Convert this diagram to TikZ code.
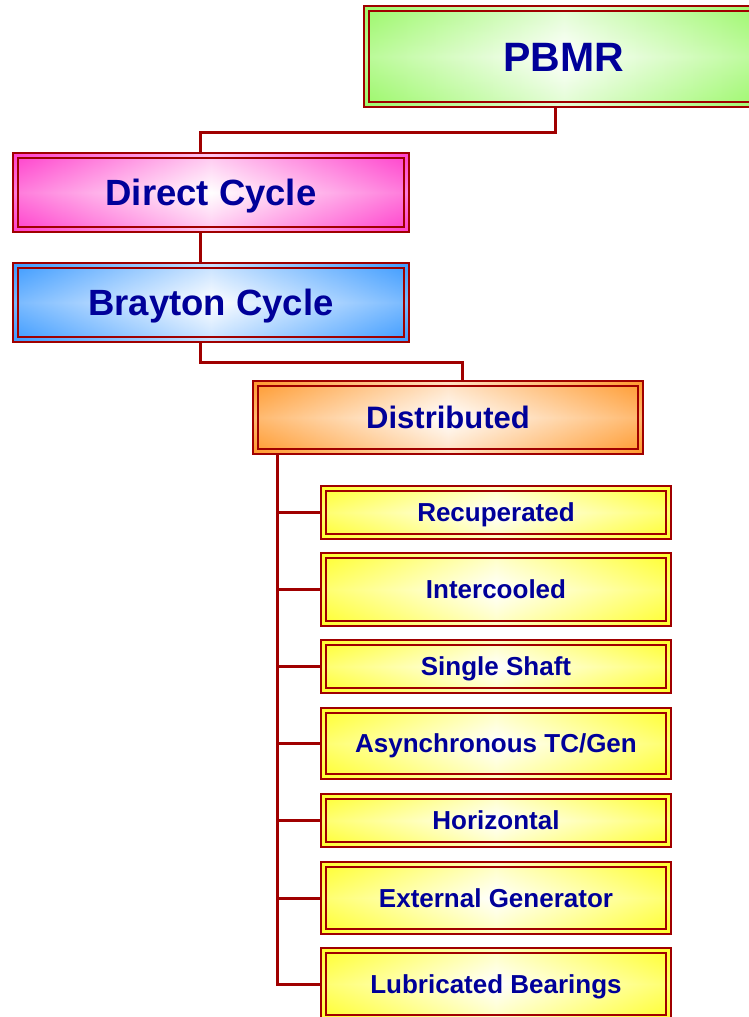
\documentclass[tikz,border=0pt]{standalone}
\usepackage{fontspec}
\setmainfont{Liberation Sans}
\usetikzlibrary{calc}
\definecolor{dred}{HTML}{A00000}
\definecolor{tblue}{HTML}{000099}
\definecolor{cgreen}{HTML}{9CF86A}
\definecolor{cpink}{HTML}{FF3FCC}
\definecolor{cblue}{HTML}{3D9BFF}
\definecolor{corange}{HTML}{FF9A2E}
\definecolor{cyellow}{HTML}{FFFF2E}
\tikzset{
  box/.style={draw=dred, line width=2pt, text=tblue, inner sep=0pt,
    text depth=0pt, left color=#1, right color=#1, middle color=white,
    path picture={
      \shade[top color=#1, bottom color=#1, middle color=white, opacity=0.3]
        (path picture bounding box.south west) rectangle (path picture bounding box.north east);
    }},
  innerb/.style={draw=dred, line width=2.6pt},
  conn/.style={draw=dred, line width=3pt},
  fbig/.style={font=\bfseries\fontsize{41}{48}\selectfont, text height=29.4pt},
  fmid/.style={font=\bfseries\fontsize{36.5}{42}\selectfont, text height=26.1pt},
  fdist/.style={font=\bfseries\fontsize{31}{36}\selectfont, text height=22.2pt},
  fsmall/.style={font=\bfseries\fontsize{26}{30}\selectfont, text height=18.6pt},
  ybox/.style={box=cyellow, fsmall, minimum width=350pt}
}
\begin{document}
\begin{tikzpicture}[x=1pt,y=-1pt]
\useasboundingbox (0,0) rectangle (749,1017);
\clip (0,0) rectangle (749,1017);
\node[box=cgreen, fbig, minimum width=400pt, minimum height=101pt] (pbmr) at (564,56.5) {PBMR};
\node[box=cpink, fmid, minimum width=396pt, minimum height=79pt] (direct) at (211,192.5) {Direct Cycle};
\node[box=cblue, fmid, minimum width=396pt, minimum height=79pt] (brayton) at (211,302.5) {Brayton Cycle};
\node[box=corange, fdist, minimum width=390pt, minimum height=73pt] (dist) at (448,417.5) {Distributed};
\node[ybox, minimum height=53pt] (rec) at (496,512.5) {Recuperated};
\node[ybox, minimum height=73pt] (inter) at (496,589.5) {Intercooled};
\node[ybox, minimum height=53pt] (single) at (496,666.5) {Single Shaft};
\node[ybox, minimum height=71pt] (async) at (496,743.5) {Asynchronous TC/Gen};
\node[ybox, minimum height=53pt] (horiz) at (496,820.5) {Horizontal};
\node[ybox, minimum height=72pt] (ext) at (496,898) {External Generator};
\node[ybox, minimum height=72pt] (lub) at (496,984) {Lubricated Bearings};
\foreach \n in {pbmr,direct,brayton,dist,rec,inter,single,async,horiz,ext,lub}
  \draw[innerb] ([shift={(6pt,-6pt)}]\n.north west) rectangle ([shift={(-6pt,6pt)}]\n.south east);
% connectors
\draw[conn] ([xshift=-9pt]pbmr.south) -- ++(0,24) -| ([xshift=-11pt]direct.north);
\draw[conn] ([xshift=-11pt]direct.south) -- ([xshift=-11pt]brayton.north);
\draw[conn] ([xshift=-11pt]brayton.south) -- ++(0,19) -| ([xshift=14pt]dist.north);
\coordinate (trunk) at ([xshift=-171pt]dist.south);
\draw[conn] (trunk) |- (lub.west);
\foreach \n in {rec,inter,single,async,horiz,ext}
  \draw[conn] (\n.west -| trunk) -- (\n.west);
\end{tikzpicture}
\end{document}
